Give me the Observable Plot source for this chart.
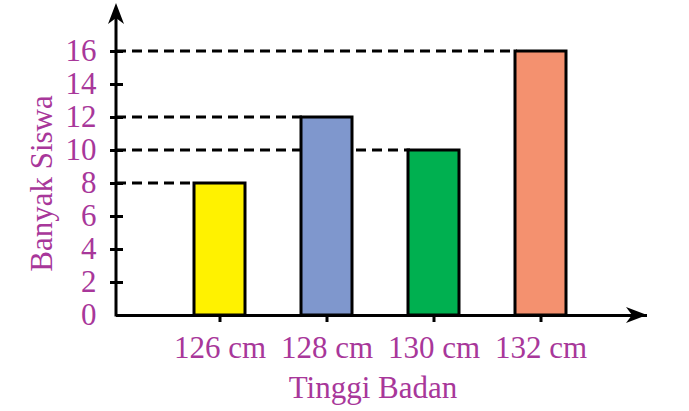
<!DOCTYPE html>
<html>
<head>
<meta charset="utf-8">
<script src="https://cdn.jsdelivr.net/npm/d3@7"></script>
<script src="https://cdn.jsdelivr.net/npm/@observablehq/plot@0.6"></script>
<style>
  html, body { margin: 0; padding: 0; background: #fff; }
</style>
</head>
<body>
<div id="chart"></div>
<script>
const heights = ["126 cm", "128 cm", "130 cm", "132 cm"];
const counts = [8, 12, 10, 16];
const barColors = ["#FFF200", "#7F97CD", "#00B050", "#F4916F"];
const yTickValues = [0, 2, 4, 6, 8, 10, 12, 14, 16];
const xTitle = "Tinggi Badan";
const yTitle = "Banyak Siswa";

const purple = "#A8379A";
const W = 689, H = 411;
const mL = 116, mR = 42, mT = 3, mB = 95;

const data = heights.map((h, i) => ({height: h, count: counts[i]}));

const chart = Plot.plot({
  width: W,
  height: H,
  marginLeft: mL,
  marginRight: mR,
  marginTop: mT,
  marginBottom: mB,
  style: {fontFamily: "'Liberation Serif', 'Times New Roman', serif", fontSize: "31px", background: "#fff", color: purple, overflow: "visible"},
  x: {type: "band", domain: heights, range: [140, 620], paddingInner: 0.52, paddingOuter: 0.5, axis: null, label: null},
  y: {domain: [0, 16], range: [315, 51], axis: null, label: null},
  color: {domain: heights, range: barColors},
  marks: [
    Plot.barY(data, {x: "height", y: "count", fill: "height", stroke: "black", strokeWidth: 3}),
    Plot.ruleY([0], {stroke: "black", strokeWidth: 3}),
    Plot.axisY(yTickValues.slice(1), {tickSize: 13, dx: 7, tickFormat: () => "", stroke: "black", strokeWidth: 3, label: null}),
    Plot.axisY(yTickValues, {tickSize: 0, tickPadding: 20, fill: purple, fontSize: 31, label: null}),
    Plot.axisX({tickSize: 6, tickPadding: 13, stroke: "black", strokeWidth: 3, fill: purple, fontSize: 31, label: null}),
    Plot.text([xTitle], {frameAnchor: "bottom", dx: -9, dy: 81, lineAnchor: "bottom", fill: purple, fontSize: 31}),
    Plot.text([yTitle], {frameAnchor: "left", textAnchor: "middle", rotate: -90, dx: -74, dy: 23.5, fill: purple, fontSize: 31})
  ]
});

const svg = d3.select(chart);
const xs = chart.scale("x");
const ys = chart.scale("y");
const y0 = ys.apply(0);
const xLeft = mL, xRight = W - mR;

// dashed guide lines from the y axis to each bar's top-left corner, behind the bars
const barGroup = chart.querySelector("[aria-label=bar]");
const guides = document.createElementNS("http://www.w3.org/2000/svg", "g");
chart.insertBefore(guides, barGroup);
d3.select(guides).selectAll("line")
  .data(data)
  .join("line")
  .attr("x1", xLeft)
  .attr("x2", d => xs.apply(d.height) + 2)
  .attr("y1", d => ys.apply(d.count))
  .attr("y2", d => ys.apply(d.count))
  .attr("stroke", "black")
  .attr("stroke-width", 3)
  .attr("stroke-dasharray", "10,6");

// axis lines with arrowheads
const g = svg.append("g");
g.append("line")
  .attr("x1", xLeft).attr("x2", xLeft)
  .attr("y1", y0 + 1.5).attr("y2", mT + 10)
  .attr("stroke", "black").attr("stroke-width", 3);
g.append("path")
  .attr("d", `M${xLeft},${mT} L${xLeft - 8},${mT + 21} L${xLeft},${mT + 15} L${xLeft + 8},${mT + 21} Z`)
  .attr("fill", "black");
g.append("path")
  .attr("d", `M${xRight},${y0} L${xRight - 21},${y0 - 8} L${xRight - 15},${y0} L${xRight - 21},${y0 + 8} Z`)
  .attr("fill", "black");

document.getElementById("chart").appendChild(chart);
</script>
</body>
</html>
